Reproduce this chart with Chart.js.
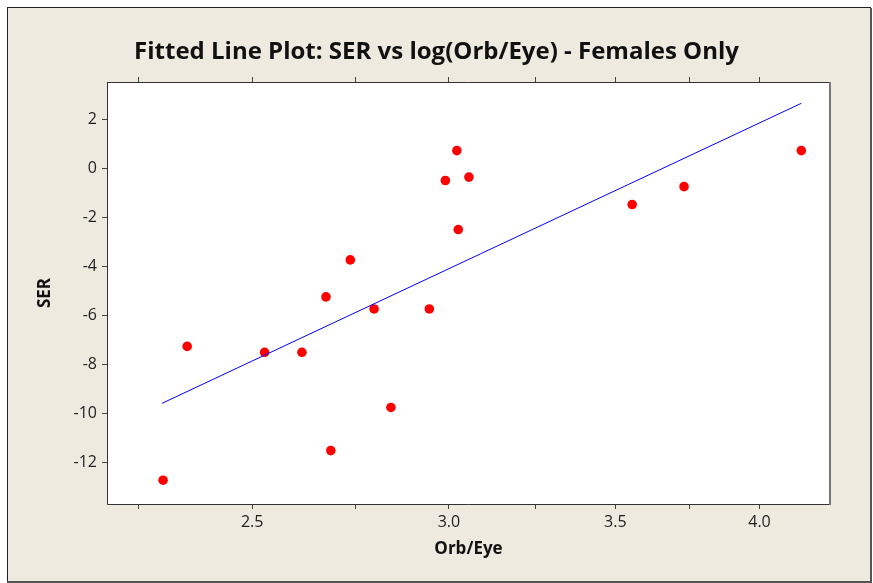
<!DOCTYPE html>
<html>
<head>
<meta charset="utf-8">
<script src="https://cdn.jsdelivr.net/npm/chart.js@4"></script>
<style>
  html, body { margin: 0; padding: 0; background: #fff; }
  #wrap { width: 873px; height: 583px; }
</style>
</head>
<body>
<div id="wrap"><canvas id="grafico"></canvas></div>
<script>
// DATOS
const orbEye = [2.302, 2.354, 2.529, 2.618, 2.677, 2.689, 2.738, 2.799, 2.843, 2.946, 2.990, 3.022, 3.026, 3.056, 3.555, 3.730, 4.158];
const ser = [-12.73, -7.27, -7.51, -7.51, -5.25, -11.52, -3.74, -5.74, -9.76, -5.74, -0.50, 0.72, -2.50, -0.36, -1.48, -0.75, 0.72];
const fitX = [2.300, 4.158];
const fitY = [-9.59, 2.65];
const xTicks = [2.25, 2.5, 2.75, 3.0, 3.25, 3.5, 3.75, 4.0];
const xLabels = ["", "2.5", "", "3.0", "", "3.5", "", "4.0"];
const yTicks = [-12, -10, -8, -6, -4, -2, 0, 2];

const fuente = "'Open Sans', 'DejaVu Sans', sans-serif";
const fondo = "rgb(238, 234, 224)";

// marco y fondo
const marco = {
  id: "marco",
  beforeDraw(chart) {
    const ctx = chart.ctx;
    const a = chart.chartArea;
    ctx.save();
    ctx.fillStyle = "#fff";
    ctx.fillRect(0, 0, chart.width, chart.height);
    ctx.fillStyle = fondo;
    ctx.fillRect(8, 8, 863, 574);
    ctx.fillStyle = "#222";
    ctx.fillRect(7, 8, 1, 574);
    ctx.fillRect(7, 7, 864, 1);
    ctx.fillStyle = "#555";
    ctx.fillRect(870, 8, 2, 575);
    ctx.fillRect(7, 581, 865, 2);
    ctx.fillStyle = "#fff";
    ctx.fillRect(a.left, a.top, a.right - a.left, a.bottom - a.top);
    ctx.restore();
  },
  afterDraw(chart) {
    const ctx = chart.ctx;
    const a = chart.chartArea;
    ctx.save();
    ctx.strokeStyle = "#333";
    ctx.lineWidth = 1;
    ctx.beginPath();
    ctx.moveTo(a.left + 0.5, a.top);
    ctx.lineTo(a.left + 0.5, a.bottom + 0.5);
    ctx.lineTo(a.right, a.bottom + 0.5);
    ctx.moveTo(a.left, a.top + 0.5);
    ctx.lineTo(a.right, a.top + 0.5);
    ctx.stroke();
    ctx.fillStyle = "#777";
    ctx.fillRect(a.right - 1, a.top, 2, a.bottom - a.top + 1);
    ctx.restore();
  },
};

function ticksX(scale) {
  scale.ticks = xTicks.map((v) => ({ value: v }));
}
function ticksY(scale) {
  scale.ticks = yTicks.map((v) => ({ value: v }));
}

const rejilla = {
  display: true,
  drawOnChartArea: false,
  drawTicks: true,
  tickLength: 5,
  tickColor: "#444",
  tickWidth: 1,
};

const data = {
  datasets: [
    {
      type: "line",
      label: "Ajuste",
      data: fitX.map((x, i) => ({ x: x, y: fitY[i] })),
      borderColor: "#0000ff",
      borderWidth: 1,
      pointRadius: 0,
      fill: false,
      tension: 0,
    },
    {
      type: "scatter",
      label: "SER",
      data: orbEye.map((x, i) => ({ x: x, y: ser[i] })),
      backgroundColor: "#ff0000",
      borderWidth: 0,
      pointRadius: 4.8,
    },
  ],
};

const config = {
  type: "scatter",
  data: data,
  options: {
    responsive: true,
    maintainAspectRatio: false,
    animation: false,
    layout: { padding: 0 },
    plugins: {
      legend: { display: false },
      tooltip: { enabled: false },
      title: {
        display: true,
        text: "Fitted Line Plot: SER vs log(Orb/Eye) - Females Only",
        color: "#111",
        font: { family: fuente, size: 24, weight: "bold" },
        padding: { top: 38, bottom: 5.2 },
      },
    },
    scales: {
      x: {
        type: "logarithmic",
        position: "bottom",
        min: 2.1855,
        max: 4.27,
        afterBuildTicks: ticksX,
        afterFit: (s) => { s.height = 79; },
        border: { display: false },
        grid: rejilla,
        ticks: {
          autoSkip: false,
          maxRotation: 0,
          padding: 4,
          color: "#222",
          font: { family: fuente, size: 16 },
          callback: (v, i) => xLabels[i],
        },
        title: {
          display: true,
          text: "Orb/Eye",
          color: "#111",
          font: { family: fuente, size: 17, weight: "bold" },
          padding: { bottom: 23.5 },
        },
      },
      x2: {
        type: "logarithmic",
        position: "top",
        min: 2.1855,
        max: 4.27,
        afterBuildTicks: ticksX,
        afterFit: (s) => { s.height = 10; },
        border: { display: false },
        grid: rejilla,
        ticks: { display: false },
      },
      y: {
        type: "linear",
        position: "left",
        min: -13.7,
        max: 3.52,
        afterBuildTicks: ticksY,
        afterFit: (s) => { s.width = 107; },
        border: { display: false },
        grid: rejilla,
        ticks: {
          padding: 5,
          color: "#222",
          font: { family: fuente, size: 16 },
        },
        title: {
          display: true,
          text: "SER",
          color: "#111",
          font: { family: fuente, size: 17, weight: "bold" },
          padding: { top: 35 },
        },
      },
      y2: {
        type: "linear",
        position: "right",
        min: -13.7,
        max: 3.52,
        afterFit: (s) => { s.width = 43; },
        border: { display: false },
        grid: { display: false },
        ticks: { display: false },
      },
    },
  },
  plugins: [marco],
};

new Chart(document.getElementById("grafico"), config);
</script>
</body>
</html>
